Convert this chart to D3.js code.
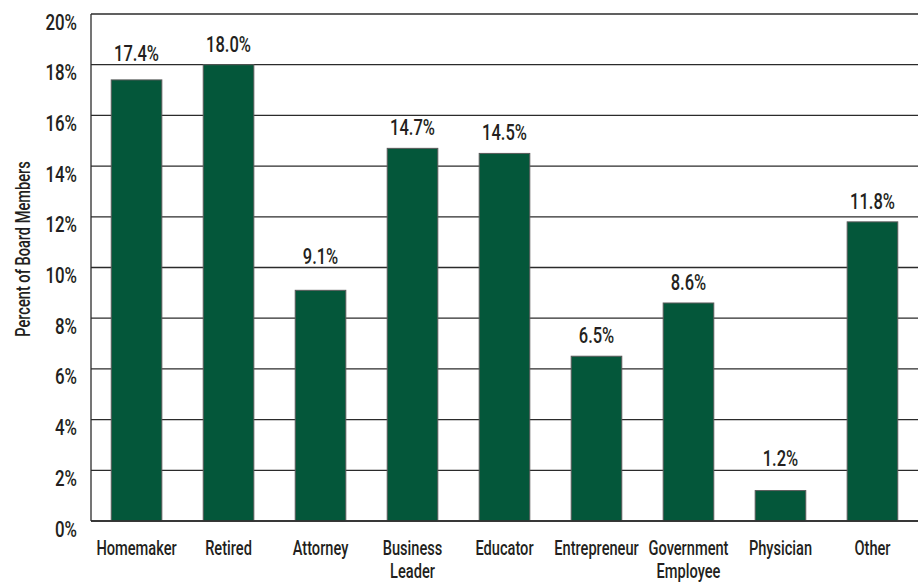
<!DOCTYPE html>
<html><head><meta charset="utf-8">
<script src="https://cdn.jsdelivr.net/npm/d3@7"></script>
<style>
body{margin:0;background:#fff;}
text{font-family:Roboto,"DejaVu Sans Condensed",sans-serif;fill:#231f20;font-weight:500;}
</style></head><body>
<svg id="c" width="924" height="587"></svg>
<script>
const categories = [["Homemaker"],["Retired"],["Attorney"],["Business","Leader"],["Educator"],["Entrepreneur"],["Government","Employee"],["Physician"],["Other"]];
const values = [17.4, 18.0, 9.1, 14.7, 14.5, 6.5, 8.6, 1.2, 11.8];
const yTicks = [0,2,4,6,8,10,12,14,16,18,20];
const yTitle = "Percent of Board Members";

const SX = 0.75; // condensed look
const svg = d3.select("#c");
const L=91, R=918, T=14, B=521;
const x = d3.scaleBand().domain(d3.range(values.length)).range([L,R]).paddingInner(0.45).paddingOuter(0.22);
const y = d3.scaleLinear().domain([0,20]).range([B,T]);

// gridlines
svg.append("g").selectAll("line").data(yTicks).join("line")
  .attr("x1",L).attr("x2",R).attr("y1",d=>y(d)).attr("y2",d=>y(d))
  .attr("stroke","#2b2b2b").attr("stroke-width",1.3);
svg.append("line").attr("x1",L).attr("x2",L).attr("y1",T).attr("y2",B).attr("stroke","#2b2b2b").attr("stroke-width",1.3);

// y tick labels
svg.append("g").selectAll("text").data(yTicks).join("text")
  .attr("transform",d=>`translate(77,${y(d)+15.5}) scale(${SX},1)`)
  .attr("text-anchor","end").attr("font-size",22.5)
  .text(d=>d+"%");

// bars
svg.append("g").selectAll("rect").data(values).join("rect")
  .attr("x",(d,i)=>x(i)).attr("width",x.bandwidth())
  .attr("y",d=>y(d)).attr("height",d=>B-y(d))
  .attr("fill","#04573a").attr("stroke","#5a5a5a").attr("stroke-width",1);

svg.append("line").attr("x1",L).attr("x2",R).attr("y1",B).attr("y2",B).attr("stroke","#2b2b2b").attr("stroke-width",1.6);

// value labels: above bar, lifted above a gridline if they would cross it
function labelY(d){
  let b = y(d) - 13;
  yTicks.forEach(t=>{ const g=y(t); if(g > b-17 && g < b+6) b = g - 4; });
  return b;
}
svg.append("g").selectAll("text").data(values).join("text")
  .attr("transform",(d,i)=>`translate(${x(i)+x.bandwidth()/2},${labelY(d)}) scale(${SX},1)`)
  .attr("text-anchor","middle").attr("font-size",22)
  .text(d=>d.toFixed(1)+"%");

// category labels
const cg = svg.append("g").selectAll("text").data(categories).join("text")
  .attr("transform",(d,i)=>`translate(${x(i)+x.bandwidth()/2},555) scale(${SX},1)`)
  .attr("text-anchor","middle").attr("font-size",19.5);
cg.selectAll("tspan").data(d=>d).join("tspan")
  .attr("x",0).attr("dy",(d,j)=>j===0?0:23).text(d=>d);

// y title
svg.append("text").attr("transform",`translate(30,249) rotate(-90) scale(${SX},1)`)
  .attr("text-anchor","middle").attr("font-size",19.5).text(yTitle);
</script></body></html>
